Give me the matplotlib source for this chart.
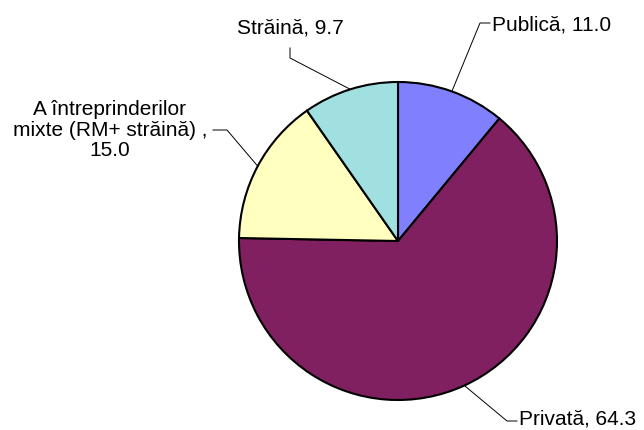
import numpy as np
import matplotlib.pyplot as plt

plt.rcParams['font.family'] = ['Liberation Sans', 'DejaVu Sans']

# Structura pe forme de proprietate (%)
categorii = ['Publică', 'Privată', 'A întreprinderilor\nmixte (RM+ străină) ,', 'Străină']
valori = [11.0, 64.3, 15.0, 9.7]
culori = ['#8080FF', '#802060', '#FFFFC0', '#A0E0E0']

fig = plt.figure(figsize=(6.44, 4.30), dpi=100)
ax = fig.add_axes([0, 0, 1, 1])

cx, cy, r = 398, 189, 159
wedges, _ = ax.pie(valori, colors=culori, startangle=90, counterclock=False,
                   center=(cx, cy), radius=r, frame=True,
                   wedgeprops=dict(edgecolor='black', linewidth=1.5))
ax.set_xlim(0, 644)
ax.set_ylim(0, 430)
ax.set_aspect('equal')
ax.axis('off')

# pozitii etichete: (text x, text y, ha, cotituri linie)
pozitii = [
    (492, 405, 'left', [(490, 407), (480, 407)]),
    (519, 11, 'left', [(517, 9), (507, 9)]),
    (110, 300, 'center', [(213, 300), (227, 300)]),
    (290, 402, 'center', [(290, 382), (290, 372)]),
]

for w, cat, val, (tx, ty, ha, cot) in zip(wedges, categorii, valori, pozitii):
    mid = np.deg2rad((w.theta1 + w.theta2) / 2)
    ex, ey = cx + r * np.cos(mid), cy + r * np.sin(mid)
    pts = cot + [(ex, ey)]
    ax.plot([p[0] for p in pts], [p[1] for p in pts], color='black', lw=0.7)
    if '\n' in cat:
        txt = f'{cat}\n{val:.1f}'
    else:
        txt = f'{cat}, {val:.1f}'
    ax.text(tx, ty, txt, ha=ha, va='center', fontsize=15,
            multialignment='center', linespacing=1.12)

fig.savefig('out.png', dpi=100)
